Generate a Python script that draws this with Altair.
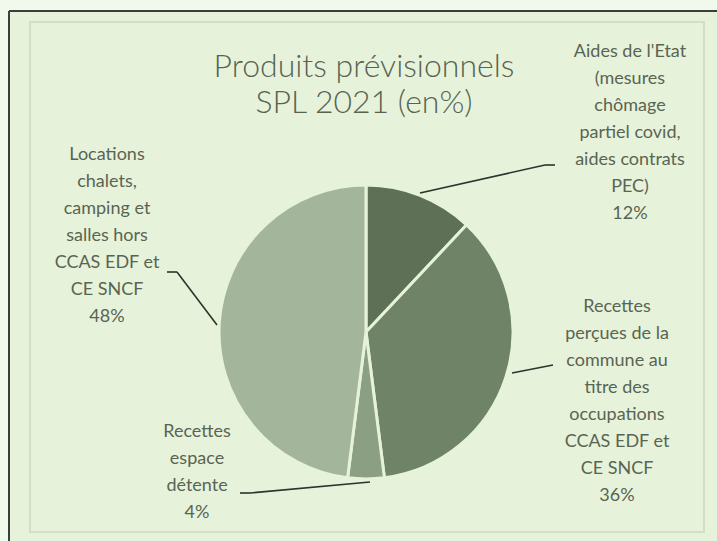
import altair as alt
import pandas as pd

# ---- data ----
categories = [
    "Aides de l'Etat",
    "Recettes commune",
    "Recettes espace détente",
    "Locations",
]
values = [12, 36, 4, 48]
label_texts = [
    "Aides de l'Etat\n(mesures\nchômage\npartiel covid,\naides contrats\nPEC)\n12%",
    "Recettes\nperçues de la\ncommune au\ntitre des\noccupations\nCCAS EDF et\nCE SNCF\n36%",
    "Recettes\nespace\ndétente\n4%",
    "Locations\nchalets,\ncamping et\nsalles hors\nCCAS EDF et\nCE SNCF\n48%",
]
title_lines = ["Produits prévisionnels", "SPL 2021 (en%)"]

# ---- layout (pixels) ----
W, H = 717, 541
CX, CY, R = 366, 332, 147
slice_colors = ["#5e7156", "#6f8467", "#8ba083", "#a3b69b"]
bg = "#e6f3da"
text_color = "#5a6453"
FONT = "Lato"

label_pos = [(630, 52), (617, 307), (197, 432), (107, 155)]
title_y = [67, 103]
leaders = [
    [(420, 193), (545, 165), (555, 165)],
    [(512, 373), (553, 365)],
    [(370, 482), (250, 493), (240, 493)],
    [(217, 325), (177, 272), (167, 272)],
]

pie_df = pd.DataFrame({"cat": categories, "val": values, "order": list(range(len(values)))})
lab_df = pd.DataFrame({
    "text": label_texts,
    "x": [p[0] for p in label_pos],
    "y": [p[1] for p in label_pos],
})
title_df = pd.DataFrame({"t": title_lines, "x": [364, 364], "y": title_y})
seg_rows = []
for pts in leaders:
    for (x1, y1), (x2, y2) in zip(pts[:-1], pts[1:]):
        seg_rows.append({"x": x1, "y": y1, "x2": x2, "y2": y2})
seg_df = pd.DataFrame(seg_rows)
one = pd.DataFrame({"a": [0]})

outside = alt.Chart(one).mark_rect(color="#f1f8ec").encode(
    x=alt.value(0), x2=alt.value(W), y=alt.value(0), y2=alt.value(H))
panel = alt.Chart(one).mark_rect(color=bg).encode(
    x=alt.value(9), x2=alt.value(W), y=alt.value(11), y2=alt.value(H))
inner = alt.Chart(one).mark_rect(fill=None, stroke="#d2dfc6", strokeWidth=2).encode(
    x=alt.value(30), x2=alt.value(704), y=alt.value(22), y2=alt.value(532))
frame_top = alt.Chart(one).mark_rule(color="#3a3f38", strokeWidth=2).encode(
    x=alt.value(9), x2=alt.value(W), y=alt.value(11))
frame_left = alt.Chart(one).mark_rule(color="#3a3f38", strokeWidth=2).encode(
    x=alt.value(9), y=alt.value(11), y2=alt.value(H))

pie = alt.Chart(pie_df).mark_arc(
    radius=R, stroke=bg, strokeWidth=3
).encode(
    theta=alt.Theta("val:Q", stack=True),
    order=alt.Order("order:Q"),
    color=alt.Color("cat:N", scale=alt.Scale(domain=categories, range=slice_colors), legend=None),
    x=alt.value(CX), y=alt.value(CY),
)

segs = alt.Chart(seg_df).mark_rule(color="#2f332d", strokeWidth=1.6).encode(
    x=alt.X("x:Q", scale=None), y=alt.Y("y:Q", scale=None),
    x2="x2:Q", y2="y2:Q",
)

labels = alt.Chart(lab_df).mark_text(
    font=FONT, fontSize=18, color=text_color, lineBreak="\n", lineHeight=27,
    align="center", baseline="middle",
).encode(
    x=alt.X("x:Q", scale=None), y=alt.Y("y:Q", scale=None), text="text:N",
)

title = alt.Chart(title_df).mark_text(
    font=FONT, fontSize=32, fontWeight=300, color="#5a6353",
    align="center", baseline="middle",
).encode(x=alt.X("x:Q", scale=None), y=alt.Y("y:Q", scale=None), text="t:N")

chart = alt.layer(
    outside, panel, inner, frame_top, frame_left, pie, segs, labels, title
).properties(width=W, height=H).configure_view(stroke=None).configure(
    background="#f1f8ec", padding=0, autosize=alt.AutoSizeParams(type="none")
)

chart.save("out.html", embed_options={"renderer": "svg", "actions": False})
